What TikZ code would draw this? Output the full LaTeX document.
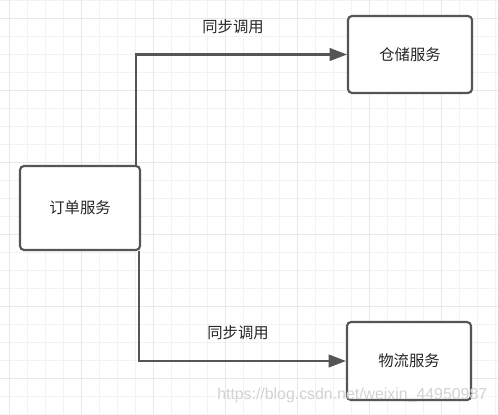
\documentclass[tikz,border=0pt]{standalone}
\usepackage{fontspec}
\setmainfont{Liberation Sans}
\newfontfamily\cjk{Noto Sans CJK SC}
\usetikzlibrary{arrows.meta,calc}
\definecolor{gridminor}{HTML}{F2F2F2}
\definecolor{gridmajor}{HTML}{E8E8E8}
\definecolor{edge}{HTML}{555555}
\definecolor{wm}{HTML}{D2D2D2}
\tikzset{
  svcbox/.style={draw=edge, line width=1.6pt, rounded corners=3pt, fill=white, inner sep=0pt, font=\cjk\fontsize{11.5pt}{13pt}\selectfont, text=black!85},
  conn/.style={draw=edge, line width=1.6pt, -{Triangle[length=13pt,width=9.5pt]}},
  lbl/.style={font=\cjk\fontsize{11.5pt}{13pt}\selectfont, text=black!85, inner sep=0pt}
}
\begin{document}
\begin{tikzpicture}[x=0.75pt,y=-0.75pt]
\useasboundingbox (0,0) rectangle (498,414);
\fill[white] (0,0) rectangle (498,414);
% grid
\foreach \x in {9,27,...,497} \draw[gridminor, line width=0.75pt] (\x,0) -- (\x,414);
\foreach \y in {0,18,...,414} \draw[gridminor, line width=0.75pt] (0,\y) -- (498,\y);
\foreach \x in {9,81,...,497} \draw[gridmajor, line width=0.75pt] (\x,0) -- (\x,414);
\foreach \y in {18,90,...,414} \draw[gridmajor, line width=0.75pt] (0,\y) -- (498,\y);
% boxes
\node[svcbox, minimum width=120*0.75pt, minimum height=84*0.75pt] (order) at (80,208) {订单服务};
\node[svcbox, minimum width=124*0.75pt, minimum height=77*0.75pt] (store) at (410,54.5) {仓储服务};
\node[svcbox, minimum width=124*0.75pt, minimum height=78*0.75pt] (logi) at (409,361) {物流服务};
% connectors
\coordinate (b1) at ($(order.north east)+(-5,0)$);
\coordinate (b2) at ($(order.south east)+(-2,0)$);
\draw[conn] (b1) |- (store.west);
\draw[conn] (b2) |- (logi.west);
\node[lbl] (l1) at (233,27) {同步调用};
\node[lbl] (l2) at (238,333) {同步调用};
% watermark
\node[text=wm, font=\fontsize{11.9pt}{13pt}\selectfont, inner sep=0pt, anchor=west] (wmk) at (217,395) {https://blog.csdn.net/weixin\_44950987};
\end{tikzpicture}
\end{document}
